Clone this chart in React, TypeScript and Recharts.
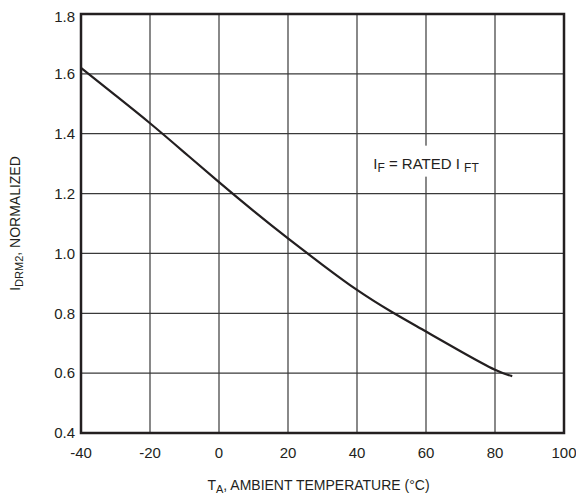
import React from 'react';
import { LineChart, Line, XAxis, YAxis, CartesianGrid, ReferenceArea, ReferenceDot, Label } from 'recharts';

// ambient temperature (°C) and normalized IDRM2
const temps = [-40, -30, -20, -10, 0, 10, 20, 30, 40, 50, 60, 70, 80, 85];
const idrm = [1.62, 1.528, 1.435, 1.337, 1.238, 1.142, 1.05, 0.962, 0.878, 0.805, 0.739, 0.673, 0.611, 0.59];

const xTicks = [-40, -20, 0, 20, 40, 60, 80, 100];
const yTicks = [0.4, 0.6, 0.8, 1.0, 1.2, 1.4, 1.6, 1.8];

const data = temps.map((t, i) => ({ t, v: idrm[i] }));

const FONT = 'Liberation Sans, Arial, Helvetica, sans-serif';
const INK = '#231f20';

const XTitle = (props: any) => {
  const { x, y, width } = props.viewBox;
  return (
    <text x={x + width / 2 - 4} y={y + 57} textAnchor="middle" fontFamily={FONT} fontSize={14} fill={INK}>
      T<tspan fontSize={11} dy={3}>A</tspan>
      <tspan dy={-3}>, AMBIENT TEMPERATURE (°C)</tspan>
    </text>
  );
};

const YTitle = (props: any) => {
  const { y, height } = props.viewBox;
  const cx = 12;
  const cy = y + height / 2;
  return (
    <text x={cx} y={cy} transform={`rotate(-90 ${cx} ${cy})`} textAnchor="middle" fontFamily={FONT} fontSize={14} fill={INK}>
      I<tspan fontSize={11} dy={3}>DRM2</tspan>
      <tspan dy={-3}>, NORMALIZED</tspan>
    </text>
  );
};

const Note = (props: any) => {
  const { cx, cy } = props;
  return (
    <g>
      <rect x={cx - 62} y={cy - 15} width={126} height={31} fill="#fff" />
      <text x={cx} y={cy + 8} textAnchor="middle" fontFamily={FONT} fontSize={15} fill={INK}>
        I<tspan fontSize={12} dy={3}>F</tspan>
        <tspan dy={-3}> = RATED I </tspan>
        <tspan fontSize={12} dy={3}>FT</tspan>
      </text>
    </g>
  );
};

export default function App() {
  return (
    <LineChart width={576} height={490} data={data} margin={{ top: 6, right: 20, left: 33, bottom: 35 }}>
      <CartesianGrid stroke="#3a3a3a" strokeWidth={1.2} horizontalValues={yTicks} verticalValues={xTicks} />
      <XAxis
        dataKey="t"
        type="number"
        domain={[-40, 100]}
        ticks={xTicks}
        axisLine={false}
        tickLine={false}
        tickSize={0}
        tickMargin={14}
        height={30}
        tick={{ fontSize: 15, fill: INK, fontFamily: FONT }}
        label={<Label content={XTitle} />}
      />
      <YAxis
        type="number"
        domain={[0.4, 1.8]}
        ticks={yTicks}
        tickFormatter={(v: number) => v.toFixed(1)}
        axisLine={false}
        tickLine={false}
        tickSize={0}
        tickMargin={6}
        width={40}
        tick={{ fontSize: 15, fill: INK, fontFamily: FONT }}
        label={<Label content={YTitle} />}
      />
      <ReferenceArea x1={-40} x2={100} y1={0.4} y2={1.8} fill="none" stroke={INK} strokeWidth={2.5} ifOverflow="visible" />
      <ReferenceDot x={60} y={1.31} r={0} shape={Note} ifOverflow="visible" />
      <Line type="natural" dataKey="v" stroke={INK} strokeWidth={2.2} dot={false} isAnimationActive={false} />
    </LineChart>
  );
}
